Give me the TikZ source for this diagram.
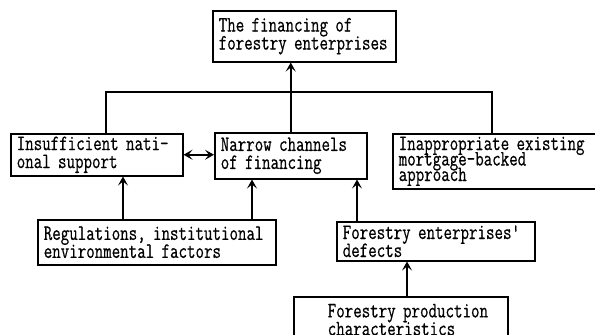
\documentclass[tikz,border=0pt]{standalone}
\usepackage{fontspec}
\usepackage{tikz}
\usetikzlibrary{arrows.meta}
\usetikzlibrary{positioning}
\newfontfamily\boxfont[FakeStretch=0.75,FakeBold=0.6]{Latin Modern Mono}
\newcommand\tightlines{\lineskiplimit=-100pt\relax}

\begin{document}
\begin{tikzpicture}[x=1pt, y=-1pt, >={Stealth[length=9pt,width=10pt,inset=4pt]},
                line width=1.5pt,
                box/.style={draw, rectangle, anchor=north west, align=left,
                  inner xsep=6pt, inner ysep=2pt,
                  font=\boxfont\fontsize{22}{18}\selectfont\tightlines}]
  \useasboundingbox (0,0) rectangle (595,335);

  \node[box, text width=171pt, minimum height=51pt] (1) at (212,10)
    {The financing of\\forestry enterprises};
  \node[box, text width=160pt, minimum height=42pt] (2) at (10,133)
    {Insufficient nati-\\onal support};
  \node[box, text width=140pt, minimum height=46pt] (3) at (214,132)
    {Narrow channels\\of financing};
  \node[box, text width=191pt, minimum height=55pt,
        font=\boxfont\fontsize{22}{15.5}\selectfont\tightlines] (4) at (392,133)
    {Inappropriate existing\\mortgage-backed\\approach};
  \node[box, text width=226pt, minimum height=45pt] (5) at (37,219)
    {Regulations, institutional\\environmental factors};
  \node[box, text width=186pt, minimum height=39pt] (6) at (336,221)
    {Forestry enterprises'\\defects};
  \node[box, text width=190pt, minimum width=214pt, minimum height=46pt] (7) at (293,296)
    {\hspace*{22pt}Forestry production\\\hspace*{22pt}characteristics};

  \draw (2.north -| 106,0) -- ++(0,-41) -| (4.north -| 492,0);
  \path[->]
    (3.north) edge (3.north |- 1.south)
    (2.east) edge [<->] (3.west |- 2.east)
    (5.north -| 123,0) edge (2.south -| 123,0)
    (5.north -| 252,0) edge (3.south -| 252,0)
    (6.north -| 357,0) edge (3.south -| 357,0)
    (7.north -| 407,0) edge (6.south -| 407,0);
\end{tikzpicture}
\end{document}
